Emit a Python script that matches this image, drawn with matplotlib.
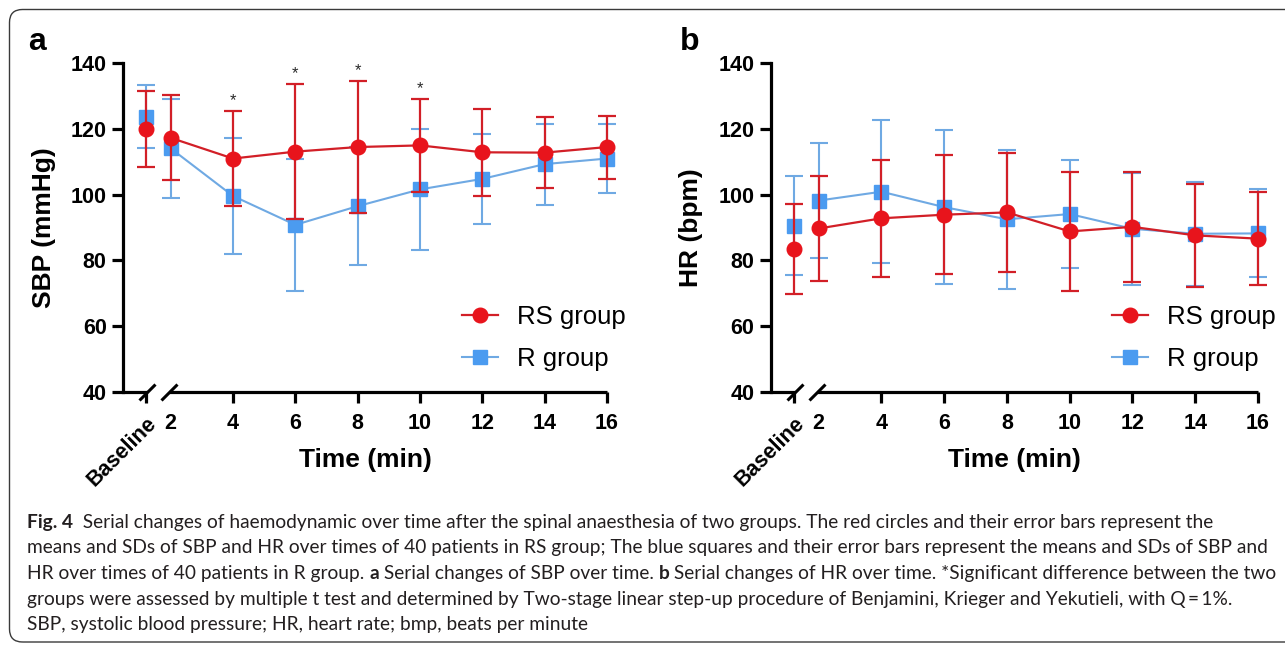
import matplotlib
matplotlib.use('Agg')
import matplotlib.pyplot as plt
from matplotlib.patches import FancyBboxPatch
from matplotlib.transforms import IdentityTransform

plt.rcParams['font.family'] = ['Liberation Sans', 'DejaVu Sans']

# data
time_labels = ['Baseline', '2', '4', '6', '8', '10', '12', '14', '16']
times = [2, 4, 6, 8, 10, 12, 14, 16]

sbp_rs_mean = [120.0, 117.3, 111.0, 113.1, 114.5, 115.0, 112.9, 112.8, 114.5]
sbp_rs_sd = [11.6, 12.9, 14.4, 20.5, 20.0, 14.1, 13.2, 10.8, 9.6]
sbp_r_mean = [123.8, 114.1, 99.6, 90.8, 96.5, 101.6, 104.8, 109.3, 111.0]
sbp_r_sd = [9.7, 15.0, 17.8, 20.1, 17.9, 18.4, 13.8, 12.3, 10.4]
sbp_sig_times = [4, 6, 8, 10]

hr_rs_mean = [83.6, 89.7, 92.8, 93.9, 94.6, 88.8, 90.2, 87.6, 86.6]
hr_rs_sd = [13.7, 16.1, 17.9, 18.2, 18.0, 18.2, 16.8, 15.6, 14.2]
hr_r_mean = [90.6, 98.2, 100.9, 96.2, 92.5, 94.1, 89.6, 88.1, 88.2]
hr_r_sd = [15.2, 17.4, 21.7, 23.5, 21.2, 16.5, 17.0, 15.8, 13.4]

caption_lines = [
    [("Fig. 4", "bold"), ("  Serial changes of haemodynamic over time after the spinal anaesthesia of two groups. The red circles and their error bars represent the", "normal")],
    [("means and SDs of SBP and HR over times of 40 patients in RS group; The blue squares and their error bars represent the means and SDs of SBP and", "normal")],
    [("HR over times of 40 patients in R group. ", "normal"), ("a", "bold"), (" Serial changes of SBP over time. ", "normal"), ("b", "bold"),
     (" Serial changes of HR over time. *Significant difference between the two", "normal")],
    [("groups were assessed by multiple t test and determined by Two-stage linear step-up procedure of Benjamini, Krieger and Yekutieli, with Q\u2009=\u20091%.", "normal")],
    [("SBP, systolic blood pressure; HR, heart rate; bmp, beats per minute", "normal")],
]

W, H = 1285, 645
baseline_x = 1.2
x = [baseline_x] + times
red = '#E8141C'
red_line = '#D21F27'
blue = '#4B9BF0'
blue_line = '#6FA9E3'

fig = plt.figure(figsize=(W / 100, H / 100), dpi=100)

# rounded frame around the figure
frame = FancyBboxPatch((9.5, 3), 1320, 632.5, boxstyle='round,pad=0,rounding_size=13',
                       transform=IdentityTransform(), fill=False, ec='#3a3a3a', lw=1.0)
fig.patches.append(frame)


def panel(left_px, right_px, rs_mean, rs_sd, r_mean, r_sd, ylabel, sig=None):
    ax = fig.add_axes([left_px / W, (H - 391.7) / H, (right_px - left_px) / W, (391.7 - 63.3) / H])
    ax.errorbar(x, r_mean, yerr=r_sd, fmt='none', ecolor=blue_line, elinewidth=1.5,
                capsize=6.5, capthick=1.5, clip_on=False, zorder=2)
    ax.plot(x[1:], r_mean[1:], '-', color=blue_line, lw=1.5, zorder=2, clip_on=False)
    ax.plot(x, r_mean, 's', color=blue, ms=9.5, mec=blue, zorder=3, clip_on=False)
    ax.errorbar(x, rs_mean, yerr=rs_sd, fmt='none', ecolor=red_line, elinewidth=1.6,
                capsize=6.5, capthick=1.6, clip_on=False, zorder=4)
    ax.plot(x[1:], rs_mean[1:], '-', color=red_line, lw=1.6, zorder=4, clip_on=False)
    ax.plot(x, rs_mean, 'o', color=red, ms=10.5, mec=red, zorder=5, clip_on=False)

    h_rs, = ax.plot([], [], '-o', color=red_line, mfc=red, mec=red, ms=10.5, lw=1.6)
    h_r, = ax.plot([], [], '-s', color=blue_line, mfc=blue, mec=blue, ms=9.5, lw=1.5)
    ax.legend([h_rs, h_r], ['RS group', 'R group'], loc='center left', bbox_to_anchor=(0.70, 0.163),
              frameon=False, fontsize=18.5, handlelength=1.4, handletextpad=0.75, labelspacing=0.7,
              borderpad=0, borderaxespad=0)

    if sig:
        for t in sig:
            i = x.index(t)
            ax.text(t, rs_mean[i] + rs_sd[i] + 3.3, '*', ha='center', va='center',
                    fontsize=12, color='#2a2a2a')

    ax.set_xlim(0.48, 16)
    ax.set_ylim(40, 140)
    ax.set_yticks(range(40, 141, 20))
    ax.set_xticks(x)
    ax.set_xticklabels(time_labels)
    for s in ['top', 'right', 'bottom']:
        ax.spines[s].set_visible(False)
    ax.spines['left'].set_linewidth(2.3)
    ax.tick_params(axis='both', width=2.3, length=8, labelsize=15.5)
    ax.tick_params(axis='y', pad=4)
    ax.tick_params(axis='x', pad=7)
    for lab in ax.get_xticklabels() + ax.get_yticklabels():
        lab.set_fontweight('bold')
    bl = ax.get_xticklabels()[0]
    bl.set_rotation(45)
    bl.set_ha('right')
    bl.set_rotation_mode('anchor')
    ax.xaxis.get_major_ticks()[1].tick1line.set_visible(False)

    # broken bottom axis
    tr = ax.get_xaxis_transform()
    ax.plot([0.48, 1.24], [0, 0], color='k', lw=2.3, transform=tr, clip_on=False, solid_capstyle='butt')
    ax.plot([1.95, 16], [0, 0], color='k', lw=2.3, transform=tr, clip_on=False, solid_capstyle='butt')
    ax.plot([1.24, 1.95], [0, 0], ls='none', marker=[(-1, -1), (1, 1)], ms=11.5, mec='k', mew=2.2,
            transform=tr, clip_on=False)

    ax.set_ylabel(ylabel, fontsize=19, fontweight='bold')
    ax.yaxis.set_label_coords(-0.139, 0.5)
    ax.set_xlabel('Time (min)', fontsize=19, fontweight='bold', va='top')
    ax.xaxis.set_label_coords(0.5, -0.172)
    return ax


panel(123.3, 607, sbp_rs_mean, sbp_rs_sd, sbp_r_mean, sbp_r_sd, 'SBP (mmHg)', sbp_sig_times)
panel(771, 1258, hr_rs_mean, hr_rs_sd, hr_r_mean, hr_r_sd, 'HR (bpm)')

fig.text(28 / W, (H - 49.5) / H, 'a', fontsize=23, fontweight='bold', va='baseline')
fig.text(680 / W, (H - 49.5) / H, 'b', fontsize=23, fontweight='bold', va='baseline')

# caption with mixed bold/regular runs
renderer = fig.canvas.get_renderer()
cap_font = ['Lato', 'DejaVu Sans']


def run_width(s, weight, size):
    t1 = fig.text(0, 0, '|' + s + '|', fontsize=size, fontweight=weight, family=cap_font)
    t2 = fig.text(0, 0, '||', fontsize=size, fontweight=weight, family=cap_font)
    w = t1.get_window_extent(renderer).width - t2.get_window_extent(renderer).width
    t1.remove()
    t2.remove()
    return w


cap_size = 12.0
line3_w = sum(run_width(s, w, cap_size) for s, w in caption_lines[2])
cap_size = cap_size * 1244 / line3_w

for k, line in enumerate(caption_lines):
    xc = 27
    yb = 528 + 25.5 * k
    for s, wgt in line:
        fig.text(xc / W, (H - yb) / H, s, fontsize=cap_size, fontweight=wgt, family=cap_font,
                 va='baseline', ha='left', color='#231f20')
        xc += run_width(s, wgt, cap_size)

fig.savefig('out.png', dpi=100)
